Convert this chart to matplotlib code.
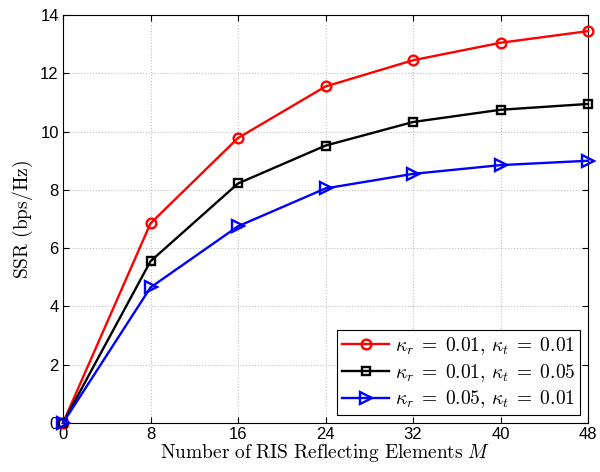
import matplotlib
matplotlib.use("Agg")
import matplotlib.pyplot as plt

# data
M = [0, 8, 16, 24, 32, 40, 48]
ssr_red = [0, 6.85, 9.78, 11.55, 12.45, 13.05, 13.45]
ssr_black = [0, 5.55, 8.22, 9.52, 10.33, 10.75, 10.95]
ssr_blue = [0, 4.65, 6.75, 8.05, 8.55, 8.85, 9.0]
labels = [r'$\kappa_r\;=\;0.01,\,\kappa_t\;=\;0.01$',
          r'$\kappa_r\;=\;0.01,\,\kappa_t\;=\;0.05$',
          r'$\kappa_r\;=\;0.05,\,\kappa_t\;=\;0.01$']

plt.rcParams['font.family'] = ['Liberation Sans', 'DejaVu Sans']
plt.rcParams['mathtext.fontset'] = 'cm'

fig = plt.figure(figsize=(6, 4.72), dpi=100)
ax = fig.add_axes([0.105, 0.104, 0.875, 0.864])

ax.plot(M, ssr_red, '-o', color='red', lw=1.7, ms=7, mfc='none', mew=1.7, label=labels[0], clip_on=False, zorder=3)
ax.plot(M, ssr_black, '-s', color='black', lw=1.7, ms=6, mfc='none', mew=1.7, label=labels[1], clip_on=False, zorder=3)
ax.plot(M, ssr_blue, '->', color='blue', lw=1.7, ms=8, mfc='none', mew=1.7, label=labels[2], clip_on=False, zorder=3)

ax.set_xlim(0, 48)
ax.set_ylim(0, 14)
ax.set_xticks(M)
ax.set_yticks(range(0, 15, 2))
ax.tick_params(direction='in', labelsize=12, length=4, top=True, right=True, pad=3)
ax.grid(True, linestyle=':', color='#c0c0c0', lw=0.8)
for s in ax.spines.values():
    s.set_linewidth(0.8)

ax.set_xlabel(r'$\mathrm{Number\ of\ RIS\ Reflecting\ Elements}\ M$', fontsize=14, labelpad=0)
ax.set_ylabel(r'$\mathrm{SSR\ (bps/Hz)}$', fontsize=14, labelpad=4)

leg = ax.legend(loc='lower right', fontsize=14, fancybox=False, edgecolor='black',
                framealpha=1, handlelength=2.4, borderpad=0.25, labelspacing=0.25,
                handletextpad=0.3, borderaxespad=0.4)
leg.get_frame().set_linewidth(0.8)
leg.set_zorder(5)

fig.savefig('out.png', dpi=100)
